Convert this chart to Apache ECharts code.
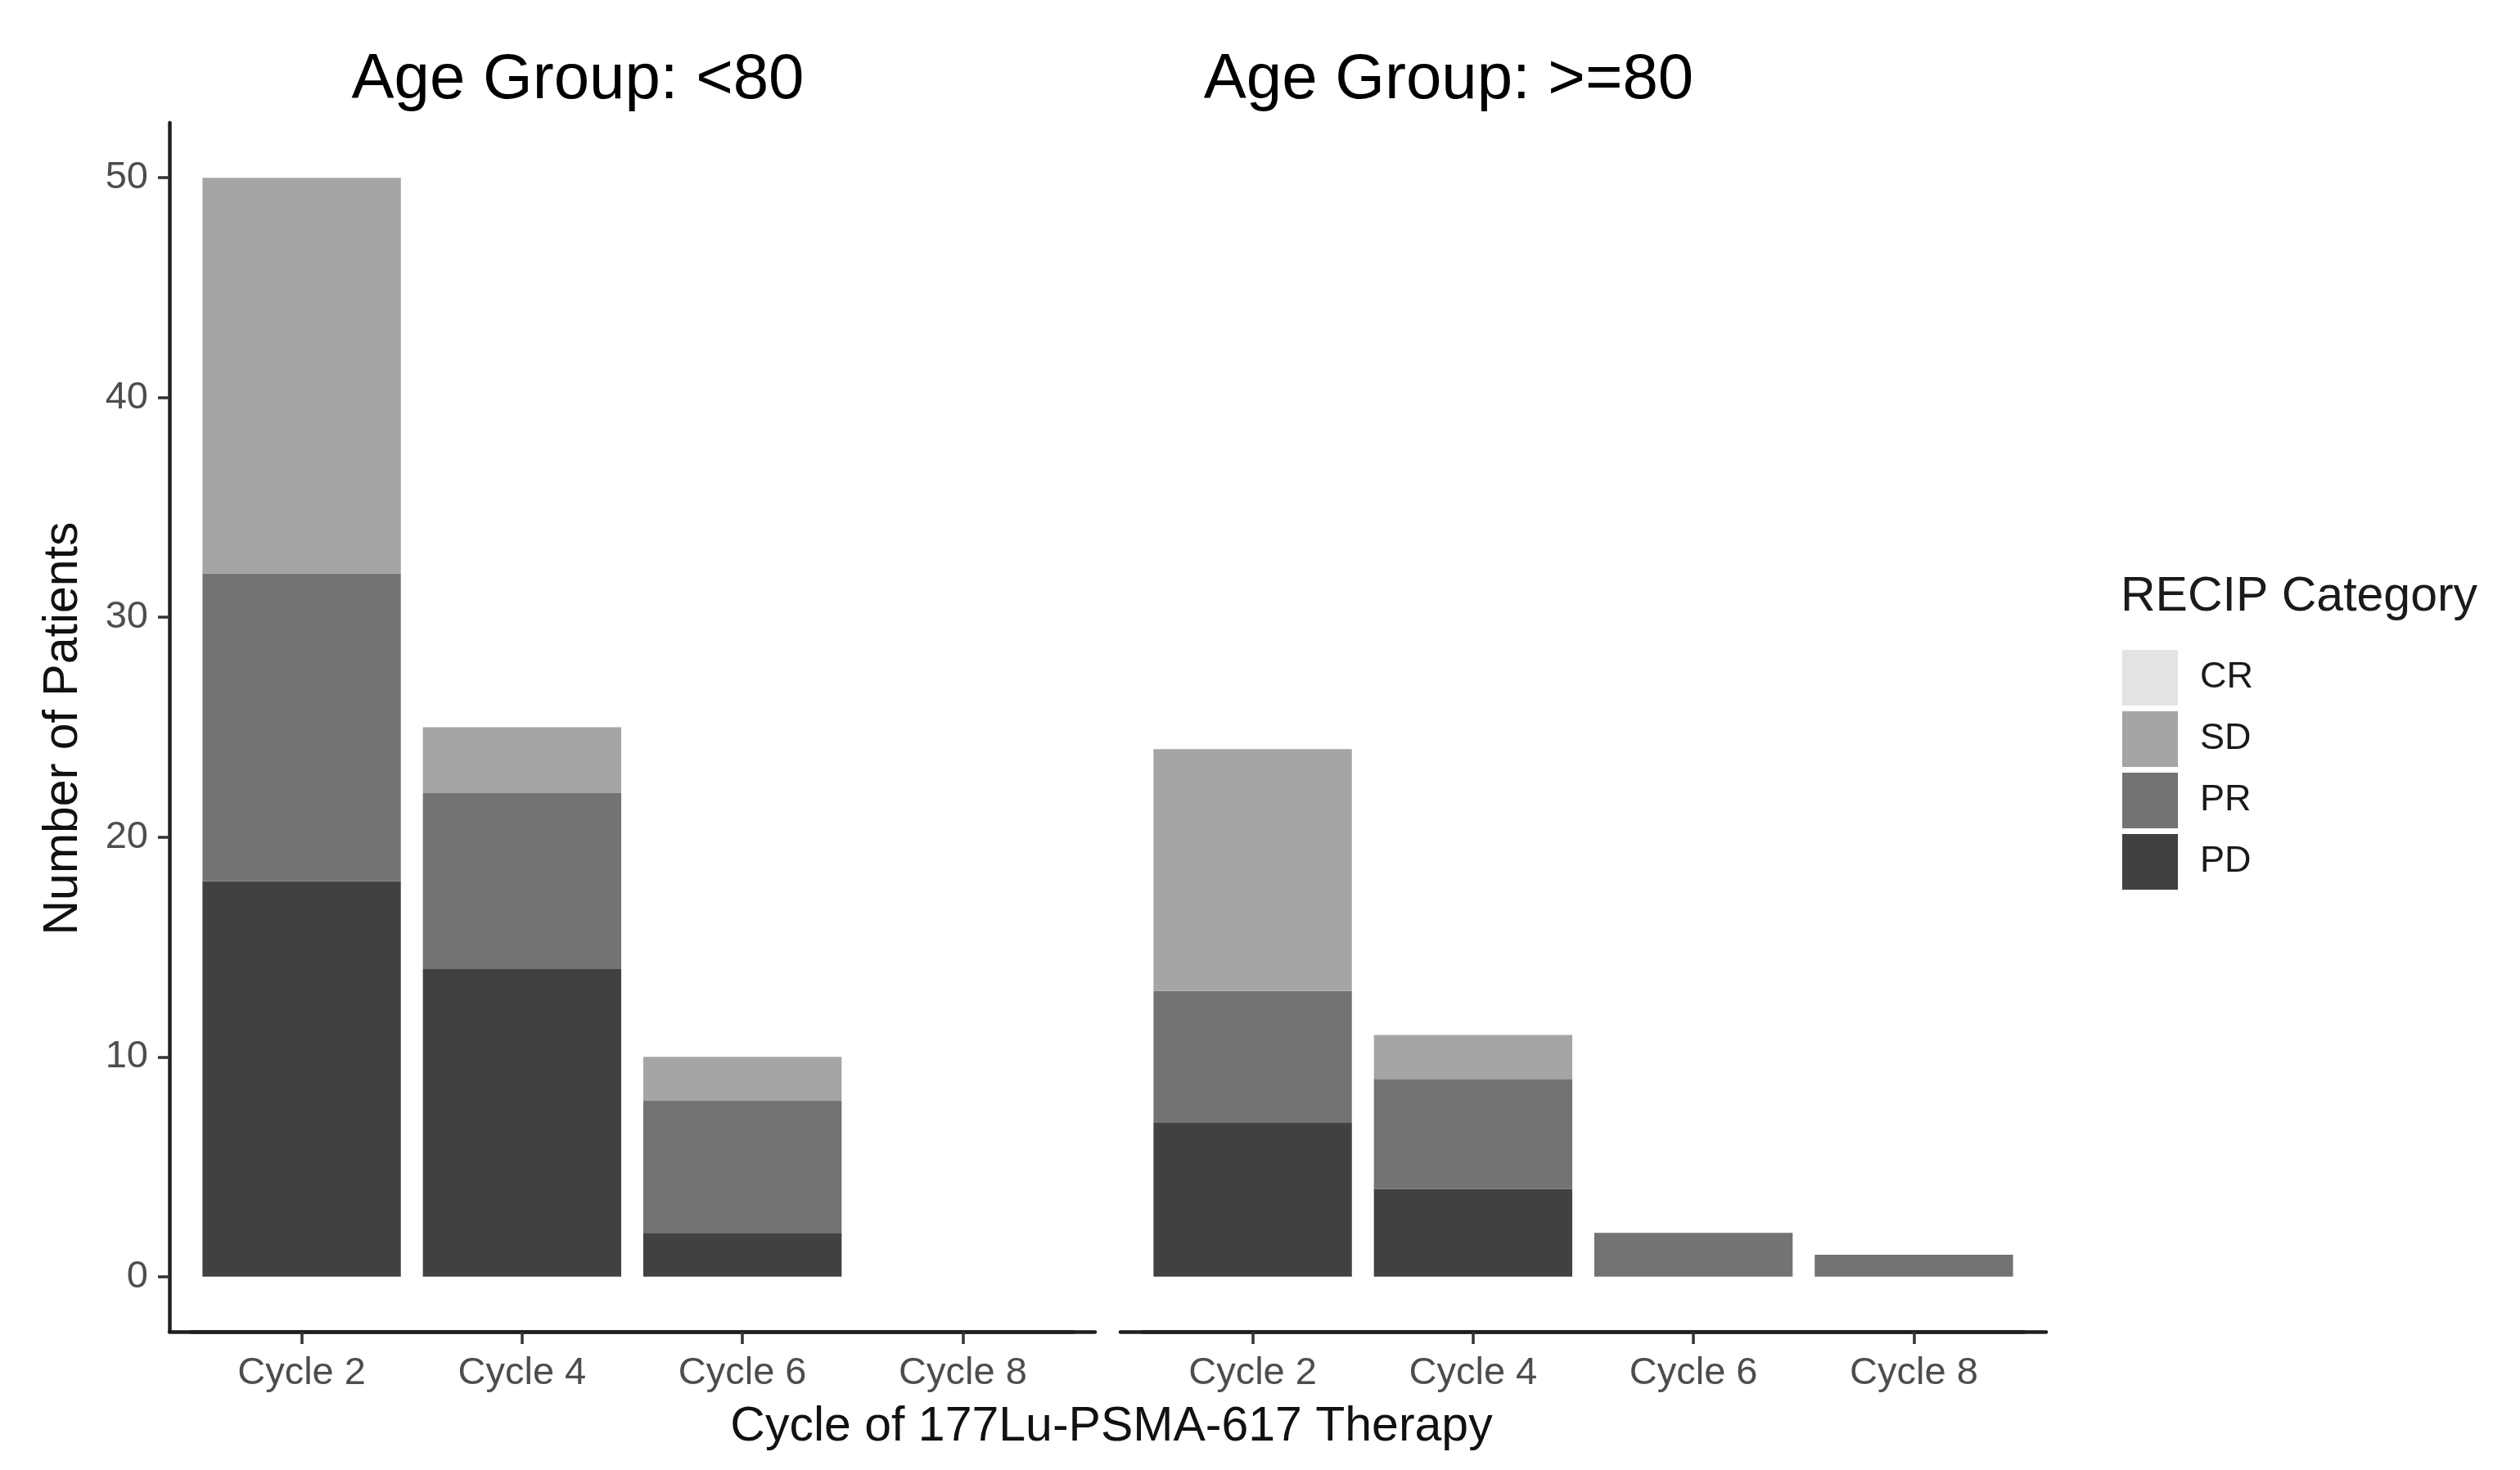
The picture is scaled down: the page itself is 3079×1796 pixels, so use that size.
<!DOCTYPE html>
<html>
<head>
<meta charset="utf-8">
<script src="https://cdn.jsdelivr.net/npm/echarts@6/dist/echarts.min.js"></script>
<style>
html,body{margin:0;padding:0;background:#fff;}
#chart{width:3079px;height:1796px;}
</style>
</head>
<body>
<div id="chart"></div>
<script>
// ---- data ----
const categories = ['Cycle 2', 'Cycle 4', 'Cycle 6', 'Cycle 8'];
const panelTitles = ['Age Group: <80', 'Age Group: >=80'];
const recipLevels = ['CR', 'SD', 'PR', 'PD'];
const yTickValues = [0, 10, 20, 30, 40, 50];

const under80_PD = [18, 14, 2, 0];
const under80_PR = [14, 8, 6, 0];
const under80_SD = [18, 3, 2, 0];
const under80_CR = [0, 0, 0, 0];

const over80_PD = [7, 4, 0, 0];
const over80_PR = [6, 5, 2, 1];
const over80_SD = [11, 2, 0, 0];
const over80_CR = [0, 0, 0, 0];

// ---- styling / layout ----
const FONT = '"Liberation Sans", Arial, Helvetica, sans-serif';
const colors = { CR: '#e3e3e3', SD: '#a5a5a5', PR: '#737373', PD: '#414141' };
const axisColor = '#1f1f1f';
const TOP = 150, BOTTOM = 169;
const PANEL_W = 1131;
const BAND = PANEL_W / 4.2;          // ggplot discrete expansion 0.6 on each side
const Y_MIN = -2.5, Y_MAX = 52.5;

const panels = [
  { left: 207, data: { PD: under80_PD, PR: under80_PR, SD: under80_SD, CR: under80_CR }, showY: true },
  { left: 1369, data: { PD: over80_PD, PR: over80_PR, SD: over80_SD, CR: over80_CR }, showY: false }
];

const grids = [], xAxes = [], yAxes = [], series = [];
panels.forEach((p, pi) => {
  // frame grid: full panel width, carries axis lines and the y axis
  const frameIdx = grids.length;
  grids.push({ left: p.left, width: PANEL_W, top: TOP, bottom: BOTTOM });
  xAxes.push({
    type: 'value', gridIndex: frameIdx, min: 0, max: 1,
    splitLine: { show: false }, axisTick: { show: false }, axisLabel: { show: false },
    axisLine: { show: true, onZero: false, lineStyle: { color: axisColor, width: 4.5 } }
  });
  yAxes.push({
    type: 'value', gridIndex: frameIdx, min: Y_MIN, max: Y_MAX, show: p.showY,
    splitLine: { show: false },
    axisLine: { show: true, onZero: false, lineStyle: { color: axisColor, width: 4.5 } },
    axisTick: { show: true, customValues: yTickValues, length: 14, lineStyle: { color: '#333', width: 3.5 } },
    axisLabel: { show: true, customValues: yTickValues, fontFamily: FONT, fontSize: 47, color: '#4d4d4d', margin: 26 }
  });
  // bar grid: exactly the 4 category bands
  const barIdx = grids.length;
  grids.push({ left: p.left + 0.1 * BAND, width: 4 * BAND, top: TOP, bottom: BOTTOM });
  xAxes.push({
    type: 'category', gridIndex: barIdx, data: categories, boundaryGap: true, position: 'bottom',
    axisLine: { show: true, onZero: false, lineStyle: { color: axisColor, width: 4.5 } },
    axisTick: { show: true, inside: false, alignWithLabel: true, length: 15, lineStyle: { color: '#333', width: 3.5 } },
    axisLabel: { show: true, fontFamily: FONT, fontSize: 47, color: '#4d4d4d', margin: 28 },
    splitLine: { show: false }
  });
  yAxes.push({ type: 'value', gridIndex: barIdx, min: Y_MIN, max: Y_MAX, show: false, splitLine: { show: false } });
  ['PD', 'PR', 'SD', 'CR'].forEach(level => {
    series.push({
      name: level, type: 'bar', xAxisIndex: barIdx, yAxisIndex: barIdx,
      stack: 'panel' + pi, barWidth: '90%',
      itemStyle: { color: colors[level] },
      data: p.data[level],
      emphasis: { disabled: true }
    });
  });
});

const chart = echarts.init(document.getElementById('chart'), null, { renderer: 'canvas' });
chart.setOption({
  animation: false,
  backgroundColor: '#ffffff',
  grid: grids,
  xAxis: xAxes,
  yAxis: yAxes,
  legend: {
    data: recipLevels,
    orient: 'vertical', left: 2588, top: 789,
    itemWidth: 68, itemHeight: 68, itemGap: 7,
    icon: 'rect',
    textStyle: { fontFamily: FONT, fontSize: 45, color: '#1a1a1a', padding: [0, 0, 0, 22] }
  },
  graphic: [
    { type: 'text', x: 706, y: 98, style: { text: panelTitles[0], font: '78px ' + FONT, fill: '#000', textAlign: 'center', textVerticalAlign: 'middle' } },
    { type: 'text', x: 1770, y: 98, style: { text: panelTitles[1], font: '78px ' + FONT, fill: '#000', textAlign: 'center', textVerticalAlign: 'middle' } },
    { type: 'text', x: 2591, y: 730, style: { text: 'RECIP Category', font: '59px ' + FONT, fill: '#1a1a1a', textAlign: 'left', textVerticalAlign: 'middle' } },
    { type: 'text', x: 1358, y: 1744, style: { text: 'Cycle of 177Lu-PSMA-617 Therapy', font: '59px ' + FONT, fill: '#111', textAlign: 'center', textVerticalAlign: 'middle' } },
    { type: 'text', x: 78, y: 890, rotation: Math.PI / 2, style: { text: 'Number of Patients', font: '59px ' + FONT, fill: '#111', textAlign: 'center', textVerticalAlign: 'middle' } }
  ],
  series: series
});
</script>
</body>
</html>
